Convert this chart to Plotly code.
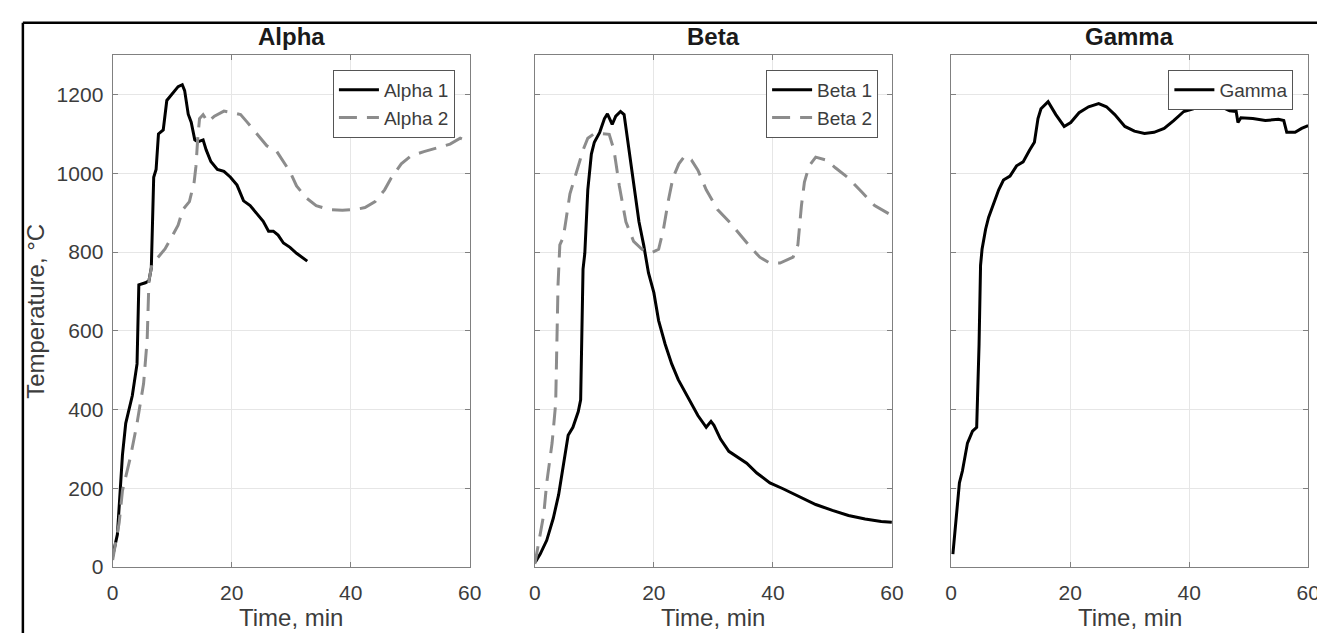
import plotly.graph_objects as go

# ---------------- data (time in min, temperature in °C) ----------------
alpha1_t = [0, 0.8, 1.65, 2.2, 3.3, 4.1, 4.4, 5.5, 6.1, 6.5, 6.9, 7.3, 7.7, 8.5, 9.1, 9.9, 11.0, 11.7,
            12.1, 12.7, 13.2, 13.8, 14.3, 15.2, 15.7, 16.5, 17.6, 18.7, 19.8, 20.9, 22.0, 23.1, 24.2,
            25.3, 26.2, 27.0, 27.8, 28.7, 29.8, 30.9, 32.7]
alpha1_T = [28, 83, 285, 365, 435, 516, 717, 722, 727, 760, 990, 1010, 1100, 1110, 1185, 1200, 1220, 1225,
            1210, 1150, 1130, 1085, 1080, 1085, 1060, 1030, 1010, 1005, 990, 970, 930, 918, 898,
            878, 853, 853, 843, 823, 812, 797, 777]

alpha2_t = [0, 1.1, 1.65, 3.0, 4.1, 5.2, 5.8, 5.95, 6.1, 6.6, 7.7, 8.8, 9.9, 11.0, 11.8, 12.9, 13.7, 14.0,
            14.3, 14.6, 15.2, 16.0, 17.1, 18.7, 19.8, 21.5, 22.6, 24.2, 25.9, 27.6, 28.9, 29.8, 30.9,
            32.5, 34.2, 36.4, 38.6, 40.8, 42.4, 44.1, 45.7, 46.8, 48.5, 50.1, 52.3, 54.5, 56.7, 58.4, 60]
alpha2_T = [18, 113, 194, 280, 365, 466, 577, 697, 727, 768, 788, 808, 838, 868, 908, 928, 978, 1018,
            1089, 1139, 1149, 1130, 1145, 1158, 1155, 1149, 1130, 1100, 1070, 1055, 1024, 1004, 968,
            938, 918, 908, 906, 908, 913, 928, 958, 988, 1024, 1044, 1055, 1064, 1074, 1089, 1079]

beta1_t = [0.1, 0.9, 2.0, 3.1, 4.0, 4.8, 5.6, 6.4, 7.3, 7.7, 7.8, 8.1, 8.4, 8.9, 9.5, 10.0, 10.9, 11.7,
           12.2, 13.0, 13.6, 14.4, 15.0, 15.8, 16.6, 17.5, 18.3, 19.1, 20.0, 20.8, 21.9, 23.0, 24.1,
           25.2, 26.3, 27.4, 28.8, 29.6, 30.1, 31.2, 32.6, 34.0, 35.6, 37.3, 39.5, 41.7, 44.5, 47.2,
           50.0, 52.7, 55.5, 58.2, 60]
beta1_T = [13, 33, 68, 124, 184, 254, 335, 355, 395, 425, 516, 757, 797, 958, 1049, 1079, 1104, 1139,
           1151, 1124, 1145, 1157, 1149, 1059, 968, 877, 817, 747, 697, 626, 566, 516, 476,
           445, 415, 385, 355, 370, 360, 325, 294, 279, 264, 239, 214, 199, 179, 159,
           144, 131, 122, 116, 114]

beta2_t = [0, 0.7, 1.5, 2.0, 2.9, 3.5, 3.7, 3.9, 4.2, 4.8, 5.3, 5.9, 6.7, 7.5, 8.1, 8.9, 10.0, 11.1,
           12.5, 13.3, 14.2, 15.3, 16.6, 18.0, 19.4, 20.8, 21.6, 22.4, 23.2, 24.2, 25.2, 26.3, 27.4,
           28.8, 30.7, 32.9, 34.5, 36.2, 37.8, 39.5, 41.2, 43.4, 44.2, 44.8, 45.3, 46.1, 47.2, 48.9,
           50.5, 52.7, 54.9, 57.1, 60]
beta2_T = [8, 63, 134, 214, 315, 415, 566, 717, 818, 838, 888, 948, 988, 1028, 1059, 1089, 1101, 1101,
           1099, 1059, 968, 877, 827, 807, 797, 807, 857, 928, 988, 1024, 1044, 1034, 1008,
           958, 908, 873, 843, 813, 787, 772, 772, 787, 818, 918, 978, 1019, 1041, 1034,
           1014, 988, 953, 918, 893]

gamma_t = [0.3, 0.8, 1.4, 1.9, 2.75, 3.6, 4.3, 4.7, 4.95, 5.2, 5.8, 6.3, 7.2, 8.0, 8.8, 9.9, 11.0, 12.1,
           13.2, 14.0, 14.6, 15.1, 16.3, 17.6, 19.0, 20.1, 21.5, 23.1, 24.8, 26.1, 27.5, 29.2, 30.8,
           32.5, 34.1, 35.8, 37.4, 39.1, 40.7, 42.7, 44.0, 45.1, 46.8, 47.9, 48.2, 48.7, 50.7, 52.8,
           55.0, 55.9, 56.4, 57.8, 58.9, 60]
gamma_T = [33, 114, 214, 244, 315, 345, 355, 566, 766, 807, 858, 888, 928, 958, 983, 993, 1019, 1029,
           1059, 1079, 1139, 1164, 1182, 1149, 1119, 1129, 1154, 1169, 1177, 1169, 1149, 1119, 1107,
           1101, 1104, 1114, 1134, 1157, 1164, 1176, 1169, 1171, 1159, 1157, 1129, 1141, 1139, 1134,
           1137, 1134, 1104, 1104, 1114, 1121]

panel_titles = ["Alpha", "Beta", "Gamma"]
x_ticks = [0, 20, 40, 60]
y_ticks = [0, 200, 400, 600, 800, 1000, 1200]
x_title = "Time, min"
y_title = "Temperature, °C"

# ---------------- styling ----------------
W, H = 1325, 633
FONT = "Liberation Sans, Arial, Helvetica, sans-serif"
BLACK = "#000000"
GRAY = "#8c8c8c"
TXT = "#3c3c3c"
FRAME = "#808080"
GRID = "#e6e6e6"
DASH = "18px,10px"


def px_x(p):
    return p / W


def px_y(p):
    return 1 - p / H


x_domains = [[px_x(100), px_x(462)], [px_x(528), px_x(890)], [px_x(950), px_x(1312)]]
y_domain = [px_y(569), px_y(48)]

fig = go.Figure()

series = [
    (alpha1_t, alpha1_T, "Alpha 1", BLACK, "solid", 1, "legend"),
    (alpha2_t, alpha2_T, "Alpha 2", GRAY, DASH, 1, "legend"),
    (beta1_t, beta1_T, "Beta 1", BLACK, "solid", 2, "legend2"),
    (beta2_t, beta2_T, "Beta 2", GRAY, DASH, 2, "legend2"),
    (gamma_t, gamma_T, "Gamma", BLACK, "solid", 3, "legend3"),
]

for t, T, name, color, dash, k, leg in series:
    fig.add_trace(go.Scatter(
        x=t, y=T, mode="lines", name=name,
        line=dict(color=color, width=3, dash=dash),
        xaxis="x" if k == 1 else f"x{k}",
        yaxis="y" if k == 1 else f"y{k}",
        legend=leg,
    ))

axis_common = dict(
    showline=True, linecolor=FRAME, linewidth=1.2, mirror="ticks",
    ticks="inside", ticklen=5, tickcolor=FRAME, tickwidth=1,
    showgrid=True, gridcolor=GRID, gridwidth=1, zeroline=False,
    tickfont=dict(family=FONT, size=21, color=TXT),
)

layout = {}
for k in range(1, 4):
    xa = "xaxis" if k == 1 else f"xaxis{k}"
    ya = "yaxis" if k == 1 else f"yaxis{k}"
    layout[xa] = dict(axis_common, domain=x_domains[k - 1], range=[0, 60],
                      tickvals=x_ticks, anchor="y" if k == 1 else f"y{k}",
                      ticklabelstandoff=7)
    layout[ya] = dict(axis_common, domain=y_domain, range=[0, 1300],
                      tickvals=y_ticks, anchor="x" if k == 1 else f"x{k}",
                      showticklabels=(k == 1), ticklabelstandoff=4)

legend_common = dict(
    xanchor="right", yanchor="top", xref="paper", yref="paper",
    bgcolor="white", bordercolor="#555555", borderwidth=1,
    font=dict(family=FONT, size=19, color=TXT),
    tracegroupgap=0, itemwidth=40,
)
layout["legend"] = dict(legend_common, x=px_x(447), y=px_y(63))
layout["legend2"] = dict(legend_common, x=px_x(876), y=px_y(63))
layout["legend3"] = dict(legend_common, x=px_x(1297), y=px_y(63))

annotations = []
for k, title in enumerate(panel_titles):
    cx = (x_domains[k][0] + x_domains[k][1]) / 2
    annotations.append(dict(
        text=f"<b>{title}</b>", x=cx, y=px_y(29), xref="paper", yref="paper",
        showarrow=False, xanchor="center", yanchor="middle",
        font=dict(family=FONT, size=24, color="#1a1a1a"),
    ))
    annotations.append(dict(
        text=x_title, x=cx, y=px_y(620), xref="paper", yref="paper",
        showarrow=False, xanchor="center", yanchor="middle",
        font=dict(family=FONT, size=24, color=TXT),
    ))
annotations.append(dict(
    text=y_title, x=px_x(21), y=(y_domain[0] + y_domain[1]) / 2, xref="paper", yref="paper",
    showarrow=False, xanchor="center", yanchor="middle", textangle=-90,
    font=dict(family=FONT, size=24, color=TXT),
))

shapes = [
    dict(type="line", xref="paper", yref="paper", x0=px_x(9), x1=1.01, y0=px_y(15), y1=px_y(15),
         line=dict(color="black", width=2.5)),
    dict(type="line", xref="paper", yref="paper", x0=px_x(9), x1=px_x(9), y0=px_y(15), y1=-0.01,
         line=dict(color="black", width=2.5)),
]

fig.update_layout(
    width=W, height=H,
    margin=dict(l=0, r=0, t=0, b=0),
    paper_bgcolor="white", plot_bgcolor="white",
    showlegend=True,
    annotations=annotations,
    shapes=shapes,
    font=dict(family=FONT, color=TXT),
    **layout,
)

fig.write_html("out.html")
